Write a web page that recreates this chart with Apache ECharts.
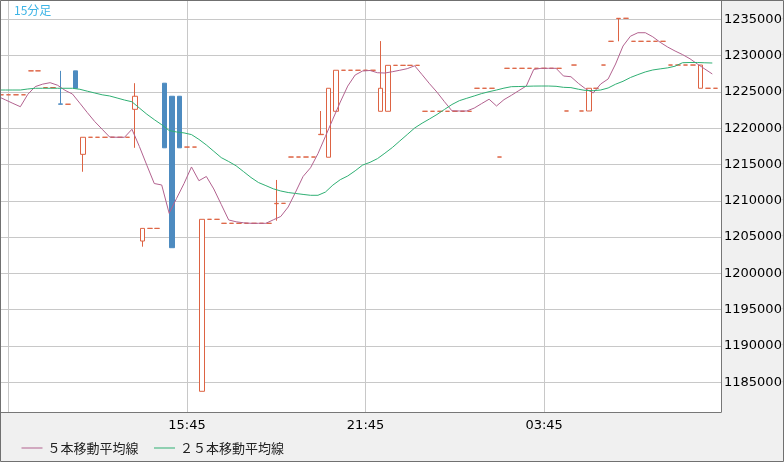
<!DOCTYPE html>
<html>
<head>
<meta charset="utf-8">
<script src="https://cdn.jsdelivr.net/npm/echarts@6/dist/echarts.min.js"></script>
<style>
html,body{margin:0;padding:0;background:#f0f0f0;}
#chart{width:784px;height:462px;}
</style>
</head>
<body>
<div id="chart"></div>
<script>
// ---- data (15-minute bars, index 0 = 09:30) ----
const xTickIdx = [1, 25, 49, 73];
const xTickLabels = ['09:45', '15:45', '21:45', '03:45'];
const xLabelIdx = [25, 49, 73];
const yTicks = [11850000, 11900000, 11950000, 12000000, 12050000, 12100000, 12150000, 12200000, 12250000, 12300000, 12350000];
const seriesNames = ['５本移動平均線', '２５本移動平均線'];
const chartTitle = '15分足';

const open = [
 12246000,12246000,12246000,12246000,12279000,12279000,12256000,12256000,12233500,12233000,
 12279000,12164000,12187500,12187500,12187500,12187500,12187500,12187500,12226000,12044600,
 12062000,12062000,12262000,12244000,12244000,12174000,12174000,11837600,12074500,12074500,
 12069000,12069000,12069000,12069000,12069000,12069000,12069000,12096000,12096500,12160300,
 12160300,12160300,12160300,12191100,12160000,12223300,12279800,12279800,12279800,12279800,
 12279800,12223300,12223300,12286600,12286600,12286600,12286600,12223300,12223300,12223300,
 12223300,12223300,12223300,12223300,12255000,12255000,12255000,12160300,12282500,12282500,
 12282500,12282500,12282500,12282500,12282500,12282500,12223700,12287000,12223700,12223700,
 12255000,12287000,12319700,12351000,12351400,12319700,12319700,12319700,12319700,12319700,
 12287000,12287000,12287000,12287000,12255000,12255000,12255000];
const close = [
 12246000,12246000,12246000,12246000,12279000,12279000,12256000,12256000,12233000,12233000,
 12255000,12187500,12187500,12187500,12187500,12187500,12187500,12187500,12244000,12062000,
 12062000,12062000,12173000,12035400,12173000,12174000,12174000,12074500,12074500,12074500,
 12069000,12069000,12069000,12069000,12069000,12069000,12069000,12096500,12096500,12160300,
 12160300,12160300,12160300,12191600,12255000,12279800,12279800,12279800,12279800,12279800,
 12279800,12255000,12286600,12286600,12286600,12286600,12286600,12223300,12223300,12223300,
 12223300,12223300,12223300,12223300,12255000,12255000,12255000,12160300,12282500,12282500,
 12282500,12282500,12282500,12282500,12282500,12282500,12223700,12287000,12223700,12255000,
 12255000,12287000,12319700,12351400,12351400,12319700,12319700,12319700,12319700,12319700,
 12287000,12287000,12287000,12287000,12287000,12255000,12255000];
const low = [
 12246000,12246000,12246000,12246000,12279000,12279000,12256000,12256000,12233000,12233000,
 12255000,12140000,12187500,12187500,12187500,12187500,12187500,12187500,12173000,12036800,
 12062000,12062000,12173000,12035400,12173000,12174000,12174000,11837600,12074500,12074500,
 12069000,12069000,12069000,12069000,12069000,12069000,12069000,12072600,12096500,12160300,
 12160300,12160300,12160300,12191100,12160000,12223300,12279800,12279800,12279800,12279800,
 12279800,12223300,12223300,12286600,12286600,12286600,12286600,12223300,12223300,12223300,
 12223300,12223300,12223300,12223300,12255000,12255000,12255000,12160300,12282500,12282500,
 12282500,12282500,12282500,12282500,12282500,12282500,12223700,12287000,12223700,12223700,
 12255000,12287000,12319700,12319700,12351400,12319700,12319700,12319700,12319700,12319700,
 12287000,12287000,12287000,12287000,12255000,12255000,12255000];
const high = [
 12246000,12246000,12246000,12246000,12279000,12279000,12256000,12256000,12279000,12233000,
 12279000,12187500,12187500,12187500,12187500,12187500,12187500,12187500,12262000,12062000,
 12062000,12062000,12262000,12244000,12244000,12174000,12174000,12074500,12074500,12074500,
 12069000,12069000,12069000,12069000,12069000,12069000,12069000,12128700,12096500,12160300,
 12160300,12160300,12160300,12223700,12255000,12279800,12279800,12279800,12279800,12279800,
 12279800,12320000,12286600,12286600,12286600,12286600,12286600,12223300,12223300,12223300,
 12223300,12223300,12223300,12223300,12255000,12255000,12255000,12160300,12282500,12282500,
 12282500,12282500,12282500,12282500,12282500,12282500,12223700,12287000,12223700,12255000,
 12255000,12287000,12319700,12351400,12351400,12319700,12319700,12319700,12319700,12319700,
 12287000,12287000,12287000,12287000,12287000,12255000,12255000];
const ma5 = [
 12243700,12239000,12234200,12229600,12246600,12257300,12260700,12262700,12259200,12252200,
 12247100,12234400,12221500,12209100,12198500,12187900,12187500,12187500,12198500,12174800,
 12149000,12123800,12121800,12082800,12103300,12123800,12146600,12127700,12133500,12116300,
 12095000,12073600,12071100,12069700,12069000,12069000,12069000,12073800,12078400,12091500,
 12112100,12133500,12145500,12164900,12188600,12212400,12236000,12258000,12273300,12278800,
 12279500,12276400,12276000,12277800,12279800,12282000,12286000,12273700,12261200,12249600,
 12236500,12224000,12223700,12223700,12227700,12233900,12239900,12230600,12239300,12245300,
 12251800,12258100,12280900,12282500,12282500,12282500,12271900,12270900,12261800,12254000,
 12248500,12260900,12267800,12288400,12313200,12326700,12331500,12331500,12325900,12318300,
 12311800,12306300,12301400,12295600,12288400,12281500,12274700];
const ma25 = [
 12252600,12252600,12252600,12252600,12254000,12255000,12255000,12255000,12255000,12255000,
 12255000,12253600,12251000,12248500,12246000,12244400,12241600,12238800,12236400,12227800,
 12219300,12211800,12204800,12196800,12194800,12193500,12191200,12184600,12176900,12168200,
 12159500,12154100,12148200,12140200,12132100,12125200,12120900,12116500,12113500,12111400,
 12110100,12108800,12107600,12107600,12112000,12121600,12129100,12134200,12141300,12149200,
 12153000,12158100,12165600,12173400,12182400,12191300,12200300,12206900,12212800,12218900,
 12225800,12232600,12237900,12241200,12244400,12247700,12250300,12252600,12255200,12257200,
 12257400,12257700,12258000,12258100,12258100,12257700,12256300,12255900,12253700,12251900,
 12251700,12252600,12255400,12260600,12264600,12269800,12273800,12277500,12280200,12281700,
 12283100,12285400,12290200,12290500,12290500,12290100,12289800];

// ---- styling / layout ----
const ORANGE = '#dd6343', BLUE = '#4d8bc0', PURPLE = '#b2628f', GREEN = '#2faf73';
const yMin = 11809091, yMax = 12375207;
const xMin = 0, xMax = 96.77;
const maShift = -0.4;

const upStyle = { color: '#ffffff', color0: '#ffffff', borderColor: ORANGE, borderColor0: ORANGE, borderWidth: 1 };
const downStyle = { color: BLUE, color0: BLUE, borderColor: BLUE, borderColor0: BLUE, borderWidth: 1 };

const candleData = open.map((o, i) => ({
  value: [i, o, close[i], low[i], high[i]],
  itemStyle: close[i] < o ? downStyle : upStyle
}));
const ma5Data = ma5.map((v, i) => [i + maShift, v]);
const ma25Data = ma25.map((v, i) => [i + maShift, v]);

const chart = echarts.init(document.getElementById('chart'), null, { renderer: 'canvas' });
chart.setOption({
  animation: false,
  backgroundColor: '#f0f0f0',
  title: {
    text: chartTitle, left: 14, top: 4, padding: 0,
    textStyle: { color: '#3db4e6', fontSize: 12, fontWeight: 'normal', fontFamily: 'Noto Sans CJK JP' }
  },
  legend: {
    left: 16, top: 436.5, itemWidth: 21, itemHeight: 13, itemGap: 15,
    selectedMode: false,
    itemStyle: { opacity: 0, borderWidth: 0 },
    lineStyle: { width: 1 },
    data: seriesNames,
    textStyle: { fontSize: 13, color: '#222', fontFamily: 'Noto Sans CJK JP' }
  },
  grid: {
    left: 1, right: 63, top: 1, bottom: 50, show: true, backgroundColor: '#ffffff', borderWidth: 0,
    containLabel: false, outerBoundsMode: 'none'
  },
  xAxis: {
    type: 'value', min: xMin, max: xMax,
    axisLine: { show: true, onZero: false, lineStyle: { color: '#777777', width: 1 } },
    axisTick: { show: false, customValues: xTickIdx },
    axisLabel: {
      customValues: xLabelIdx, margin: 7, color: '#000', fontSize: 13, fontFamily: 'DejaVu Sans',
      formatter: v => xTickLabels[xTickIdx.indexOf(Math.round(v))] || ''
    },
    splitLine: { show: true, lineStyle: { color: '#c8c8c8', width: 1 } }
  },
  yAxis: {
    type: 'value', position: 'right', min: yMin, max: yMax, scale: true,
    axisLine: { show: true, onZero: false, lineStyle: { color: '#777777', width: 1 } },
    axisTick: { show: false, customValues: yTicks },
    axisLabel: { customValues: yTicks, margin: 3, color: '#000', fontSize: 13, fontFamily: 'DejaVu Sans', formatter: v => String(v) },
    splitLine: { show: true, lineStyle: { color: '#c8c8c8', width: 1 } }
  },
  graphic: [{
    type: 'rect', z: 100, silent: true,
    shape: { x: 0.5, y: 0.5, width: 783, height: 461 },
    style: { fill: 'none', stroke: '#707070', lineWidth: 1 }
  }],
  series: [
    {
      type: 'candlestick', name: 'ohlc', data: candleData, barWidth: 5,
      encode: { x: 0, y: [1, 2, 3, 4] },
      itemStyle: upStyle, emphasis: { disabled: true }
    },
    {
      type: 'line', name: seriesNames[0], data: ma5Data, color: PURPLE, showSymbol: false, symbol: 'none',
      itemStyle: { color: PURPLE }, lineStyle: { width: 1, color: PURPLE }, emphasis: { disabled: true }
    },
    {
      type: 'line', name: seriesNames[1], data: ma25Data, color: GREEN, showSymbol: false, symbol: 'none',
      itemStyle: { color: GREEN }, lineStyle: { width: 1, color: GREEN }, emphasis: { disabled: true }
    }
  ]
});
</script>
</body>
</html>
